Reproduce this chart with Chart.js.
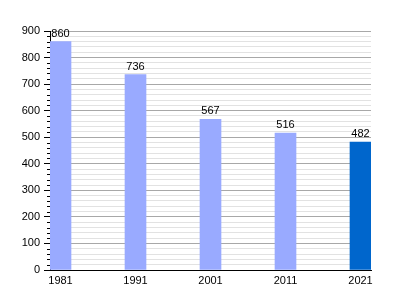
<!DOCTYPE html>
<html>
<head>
<meta charset="utf-8">
<script src="https://cdn.jsdelivr.net/npm/chart.js@4/dist/chart.umd.min.js"></script>
<style>
  html, body { margin: 0; padding: 0; background: #ffffff; }
  #wrap { width: 400px; height: 300px; }
</style>
</head>
<body>
<div id="wrap"><canvas id="chart" width="400" height="300"></canvas></div>
<script>
// 数据：年份与人口
const years = [1981, 1991, 2001, 2011, 2021];
const values = [860, 736, 567, 516, 482];
const barColors = ["#99aaff", "#99aaff", "#99aaff", "#99aaff", "#0066cc"];
const yTicks = [0, 100, 200, 300, 400, 500, 600, 700, 800, 900];

// 在柱子上方写数值
const valueLabels = {
    id: "valueLabels",
    afterDatasetsDraw(chart){
        const ctx = chart.ctx;
        const meta = chart.getDatasetMeta(0);
        ctx.save();
        ctx.fillStyle = "#000000";
        ctx.font = "11px 'Liberation Sans', Arial, sans-serif";
        ctx.textAlign = "center";
        ctx.textBaseline = "alphabetic";
        meta.data.forEach((bar, i) => {
            ctx.fillText(String(values[i]), bar.x, bar.y - 5);
        });
        ctx.restore();
    }
};

// 次刻度：比主刻度短一些
const minorTicks = {
    id: "minorTicks",
    afterDraw(chart){
        const ctx = chart.ctx;
        const y = chart.scales.y;
        ctx.save();
        ctx.strokeStyle = "#000000";
        ctx.lineWidth = 1;
        y.ticks.forEach(t => {
            if(t.value % 100 === 0) return;
            const py = Math.round(y.getPixelForValue(t.value)) + 0.5;
            ctx.beginPath();
            ctx.moveTo(y.right - 3, py);
            ctx.lineTo(y.right, py);
            ctx.stroke();
        });
        ctx.restore();
    }
};

new Chart(document.getElementById("chart"), {
    type: "bar",
    data: {
        datasets: [{
            data: years.map((y, i) => ({ x: y, y: values[i] })),
            backgroundColor: barColors,
            borderWidth: 0,
            barThickness: 21
        }]
    },
    options: {
        responsive: false,
        animation: false,
        layout: { padding: { top: 31, right: 29, left: 0, bottom: 0 } },
        plugins: {
            legend: { display: false },
            tooltip: { enabled: false }
        },
        scales: {
            x: {
                type: "linear",
                offset: false,
                min: 1979.6,
                max: 2022.4,
                afterBuildTicks(scale){
                    scale.ticks = years.map(v => ({ value: v }));
                },
                afterFit(scale){
                    scale.height = 30;
                },
                ticks: {
                    color: "#000000",
                    padding: 4,
                    font: { family: "'Liberation Sans', Arial, sans-serif", size: 11 },
                    callback: v => String(v)
                },
                grid: { display: false, drawTicks: false, offset: false },
                border: { display: true, color: "#000000", width: 1 }
            },
            y: {
                min: 0,
                max: 900,
                afterBuildTicks(scale){
                    const t = [];
                    for(let v = 0; v <= 900; v += 20){ t.push({ value: v }); }
                    scale.ticks = t;
                },
                afterFit(scale){
                    scale.width = 50;
                },
                ticks: {
                    color: "#000000",
                    padding: 4,
                    autoSkip: false,
                    font: { family: "'Liberation Sans', Arial, sans-serif", size: 11 },
                    callback: v => (yTicks.includes(v) ? String(v) : "")
                },
                grid: {
                    color: c => (c.tick && c.tick.value % 100 === 0 ? "#a8a8a8" : "#e2e2e2"),
                    tickColor: c => (c.tick && c.tick.value % 100 === 0 ? "#000000" : "rgba(0,0,0,0)"),
                    tickLength: 6,
                    lineWidth: 1
                },
                border: { display: true, color: "#000000", width: 1 }
            }
        }
    },
    plugins: [valueLabels, minorTicks]
});
</script>
</body>
</html>
